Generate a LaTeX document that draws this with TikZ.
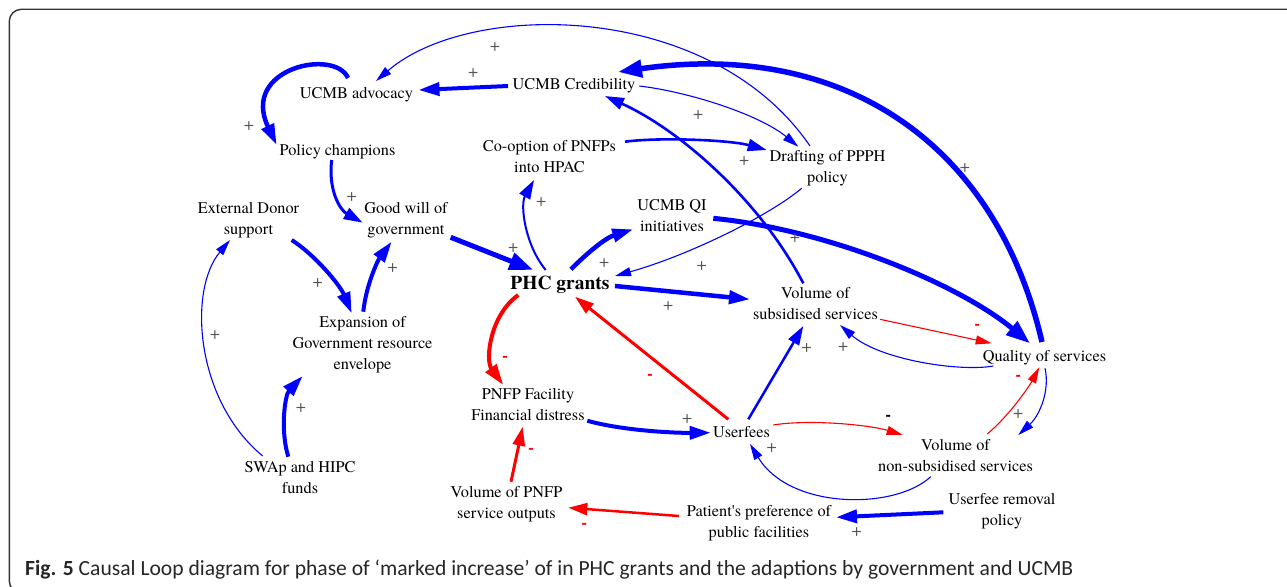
\documentclass[tikz,border=0pt]{standalone}
\usepackage{fontspec}
\usepackage{graphicx}
\setmainfont{texgyretermes}[Extension=.otf, UprightFont=*-regular, BoldFont=*-bold, ItalicFont=*-italic, BoldItalicFont=*-bolditalic]
\newfontfamily\capfont{Carlito}
\newfontfamily\signfont{Liberation Sans}
\usetikzlibrary{arrows.meta}
\definecolor{cblue}{RGB}{0,0,255}
\definecolor{cred}{RGB}{255,0,0}
\definecolor{pgray}{RGB}{85,85,85}
\definecolor{framegray}{RGB}{50,50,50}
\tikzset{
  var/.style={font=\rmfamily\fontsize{16.3}{21}\selectfont, align=center, inner sep=0pt,
    execute at begin node=\strut, execute at end node=\strut},
  cb/.style={color=cblue},
  cr/.style={color=cred},
  wthin/.style={line width=1.1pt, -{Triangle[length=16pt,width=9pt]}},
  wmed/.style={line width=2.6pt, -{Triangle[length=19pt,width=12pt]}},
  wthick/.style={line width=4pt, -{Triangle[length=21pt,width=13pt]}},
  wvthick/.style={line width=5pt, -{Triangle[length=24pt,width=17pt]}},
  plus/.style={font=\rmfamily\fontsize{18}{18}\selectfont, text=pgray, inner sep=0pt},
  minus/.style={font=\signfont\bfseries\fontsize{16}{16}\selectfont, text=cred, inner sep=0pt},
}
\begin{document}
\begin{tikzpicture}[x=1pt,y=-1pt]
\useasboundingbox (0,0) rectangle (1287,586);
\begin{scope}
\clip (0,0) rectangle (1287,586);
\draw[framegray, line width=1.4pt, rounded corners=12pt] (9.3,9.3) rectangle (1330,593);
\end{scope}

% variables
\node[var] (adv) at (356.5,94) {UCMB advocacy};
\node[var] (cred) at (574,85.5) {UCMB Credibility};
\node[var] (pol) at (337.5,151) {Policy champions};
\node[var] (coop) at (549.5,160) {Co-option of PNFPs\\into HPAC};
\node[var] (draft) at (827.5,169.5) {Drafting of PPPH\\policy};
\node[var] (donor) at (248.5,222) {External Donor\\support};
\node[var] (good) at (406,222) {Good will of\\government};
\node[var] (qi) at (672,219) {UCMB QI\\initiatives};
\node[var, font=\rmfamily\bfseries\fontsize{19.5}{21}\selectfont] (phc) at (560,285.5) {PHC grants};
\node[var] (vsub) at (815.5,307) {Volume of\\subsidised services};
\node[var] (qual) at (1044.5,357) {Quality of services};
\node[var] (exp) at (362.5,346.5) {Expansion of\\Government resource\\envelope};
\node[var] (pnfp) at (528,408) {PNFP Facility\\Financial distress};
\node[var] (user) at (741.5,433) {Userfees};
\node[var] (vnon) at (955.5,459) {Volume of\\non-subsidised services};
\node[var] (swap) at (300,481) {SWAp and HIPC\\funds};
\node[var] (vout) at (506.5,506) {Volume of PNFP\\service outputs};
\node[var] (pat) at (759,525) {Patient\textquotesingle s preference of\\public facilities};
\node[var] (rem) at (1002,513) {Userfee removal\\policy};

% links
\draw[cb,wthick] ([shift={(-66,0.5)}]cred.center) -- ([shift={(62,-4)}]adv.center);
\draw[cb,wthin] ([shift={(-17.5,-23.5)}]draft.center) .. controls (710,0) and (470,0) .. ([shift={(19.5,-13)}]adv.center);
\draw[cb,wthick,line width=4.5pt] ([shift={(-8.5,-16)}]adv.center) .. controls (335,48) and (240,68) .. ([shift={(-60.8,-6)}]pol.center);
\draw[cb,wmed,line width=3pt] ([shift={(-5.8,9)}]pol.center) .. controls (328,190) and (340,210) .. ([shift={(-43.3,0.7)}]good.center);
\draw[cb,wthick] ([shift={(43.2,18)}]donor.center) .. controls (315,255) and (340,285) .. ([shift={(-10.8,-33.2)}]exp.center);
\draw[cb,wthick] ([shift={(0.8,-34.8)}]exp.center) .. controls (366,285) and (378,260) .. ([shift={(-14.3,19.7)}]good.center);
\draw[cb,wthin] ([shift={(-37.3,-25)}]swap.center) .. controls (195,400) and (188,290) .. ([shift={(-18.5,18)}]donor.center);
\draw[cb,wthick] ([shift={(-11.7,-24.3)}]swap.center) .. controls (280,430) and (285,395) .. ([shift={(-59.8,29.5)}]exp.center);
\draw[cb,wvthick] ([shift={(44.7,15.3)}]good.center) -- ([shift={(-26.7,-15.5)}]phc.center);
\draw[cb,wmed,line width=2pt] ([shift={(-14.3,-15.5)}]phc.center) .. controls (525,245) and (520,205) .. ([shift={(-15.5,20)}]coop.center);
\draw[cb,wthick,line width=4.5pt] ([shift={(11,-16.2)}]phc.center) .. controls (585,255) and (605,238) .. ([shift={(-38.7,10.3)}]qi.center);
\draw[cb,wmed] ([shift={(75.5,-18.3)}]coop.center) .. controls (660,137) and (730,140) .. ([shift={(-60.8,-19.5)}]draft.center);
\draw[cb,wthin] ([shift={(65.3,0.5)}]cred.center) .. controls (690,92) and (760,115) .. ([shift={(-29.2,-22.8)}]draft.center);
\draw[cb,wthin] ([shift={(-25.8,18.8)}]draft.center) .. controls (770,215) and (690,255) .. ([shift={(55,-9.5)}]phc.center);
\draw[cb,wmed] ([shift={(-12.2,-23.7)}]vsub.center) .. controls (760,200) and (680,130) .. ([shift={(31,10.5)}]cred.center);
\draw[cb,wvthick] ([shift={(41.3,-0.7)}]qi.center) .. controls (830,230) and (960,285) .. ([shift={(-14.5,-13.7)}]qual.center);
\draw[cb,wvthick,line width=5.5pt] ([shift={(-2.5,-15)}]qual.center) .. controls (995,140) and (840,40) .. ([shift={(44,-13.5)}]cred.center);
\draw[cb,wthick,line width=4.5pt] ([shift={(55,0.5)}]phc.center) -- ([shift={(-65.5,-7.7)}]vsub.center);
\draw[cr,wthin] ([shift={(64.5,12.3)}]vsub.center) -- ([shift={(-52.8,-13.7)}]qual.center);
\draw[cb,wthin] ([shift={(-51.2,9)}]qual.center) .. controls (960,372) and (880,360) .. ([shift={(24.5,18)}]vsub.center);
\draw[cr,wthick] ([shift={(-41.7,9.5)}]phc.center) .. controls (490,315) and (485,360) .. ([shift={(-24.7,-23)}]pnfp.center);
\draw[cr,wmed,line width=3pt] ([shift={(-13.2,-13.7)}]user.center) -- ([shift={(15,11.2)}]phc.center);
\draw[cb,wthick] ([shift={(59.3,12.7)}]pnfp.center) .. controls (620,430) and (670,433) .. ([shift={(-30.8,-0.3)}]user.center);
\draw[cb,wmed,line width=2.5pt] ([shift={(6.8,-13.7)}]user.center) -- ([shift={(-12.2,19)}]vsub.center);
\draw[cr,wthin] ([shift={(31.8,-8)}]user.center) .. controls (810,419) and (870,425) .. ([shift={(-52.8,-24)}]vnon.center);
\draw[cr,wthin] ([shift={(31.8,-25)}]vnon.center) .. controls (1010,415) and (1030,385) .. ([shift={(-5.2,10.3)}]qual.center);
\draw[cb,wthin] ([shift={(0.5,11.3)}]qual.center) .. controls (1050,390) and (1040,415) .. ([shift={(62.8,-24)}]vnon.center);
\draw[cb,wthin] ([shift={(-24.8,17.7)}]vnon.center) .. controls (895,510) and (790,510) .. ([shift={(8.5,11)}]user.center);
\draw[cr,wmed,line width=3pt] ([shift={(4.5,-24.3)}]vout.center) -- ([shift={(-5.3,18.7)}]pnfp.center);
\draw[cr,wmed,line width=2.5pt] ([shift={(-80,-9)}]pat.center) -- ([shift={(61.8,1.7)}]vout.center);
\draw[cb,wthick] ([shift={(-58.7,-0.7)}]rem.center) -- ([shift={(77,-7.7)}]pat.center);

% polarity signs
\node[plus] (p1) at (473.3,72.7) {+};
\node[plus] (p2) at (495,46.7) {+};
\node[plus] (p3) at (249,126) {+};
\node[plus] (p4) at (351.7,197.3) {+};
\node[plus] (p5) at (317.7,282.7) {+};
\node[plus] (p6) at (392.7,268.3) {+};
\node[plus] (p7) at (215,335) {+};
\node[plus] (p8) at (301,408.3) {+};
\node[plus] (p9) at (513.3,248.3) {+};
\node[plus] (p10) at (541.3,201.7) {+};
\node[plus] (p11) at (604.3,262.7) {+};
\node[plus] (p12) at (744.3,160.7) {+};
\node[plus] (p13) at (698.3,115) {+};
\node[plus] (p14) at (701.7,266) {+};
\node[plus] (p15) at (795,238.3) {+};
\node[plus] (p16) at (965,168) {+};
\node[plus] (p17) at (668.3,306) {+};
\node[plus] (p18) at (843.3,347.3) {+};
\node[plus] (p19) at (687.3,419.3) {+};
\node[plus] (p20) at (806.7,348.3) {+};
\node[plus] (p21) at (1018.3,414) {+};
\node[plus] (p22) at (771.7,447.7) {+};
\node[plus] (p23) at (856.7,532.3) {+};
\node[minus] (m1) at (977.3,326.7) {-};
\node[minus] (m2) at (505,359) {-};
\node[minus] (m3) at (650,376.7) {-};
\node[minus] (m4) at (1018.3,377.7) {-};
\node[minus] (m5) at (531,450.7) {-};
\node[minus] (m6) at (584.3,526) {-};
\node[minus, text=black] (m7) at (888.3,418.3) {-};

% caption
\node[anchor=base west, inner sep=0pt, text=black!85] (cap) at (25,575)
  {\resizebox{1048pt}{!}{\capfont\textbf{Fig. 5} Causal Loop diagram for phase of ‘marked increase’ of in PHC grants and the adaptions by government and UCMB}};
\end{tikzpicture}
\end{document}
